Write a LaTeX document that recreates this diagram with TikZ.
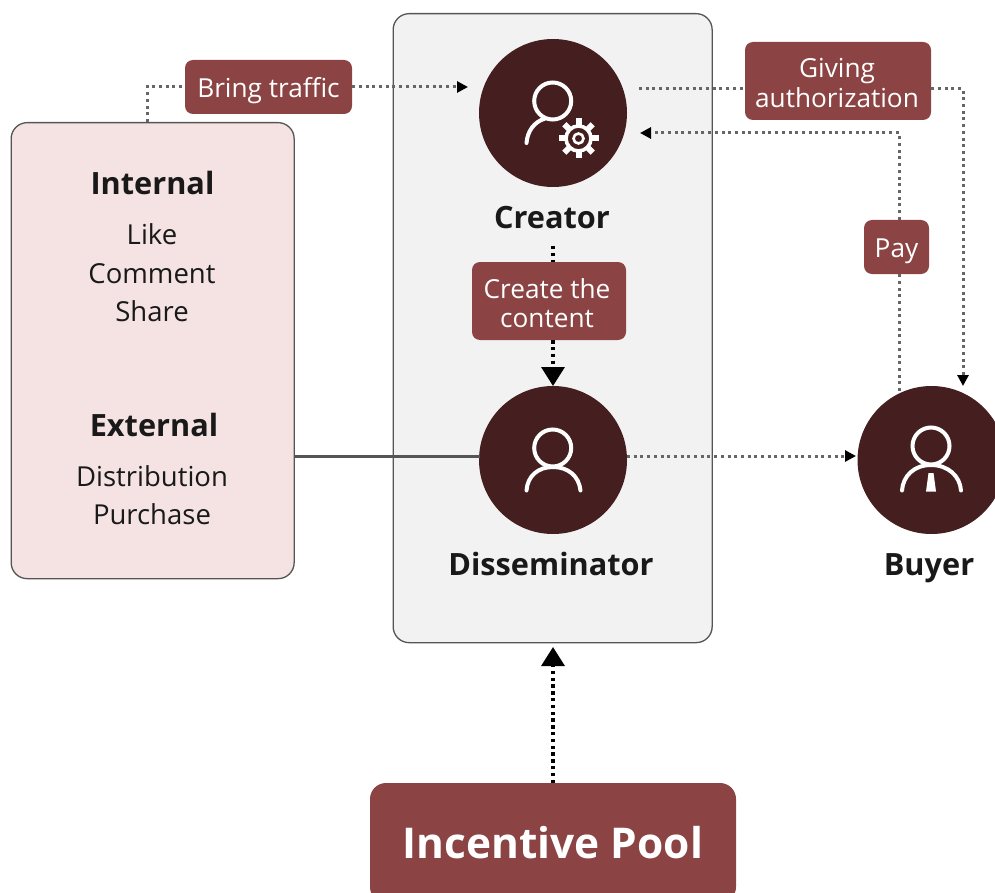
\documentclass[tikz,border=0pt]{standalone}
\usepackage{fontspec}
\setmainfont{Open Sans}
\usetikzlibrary{arrows.meta,calc}
\definecolor{darkc}{HTML}{451F1F}
\definecolor{labelc}{HTML}{8B4343}
\definecolor{pinkc}{HTML}{F5E3E3}
\definecolor{greyc}{HTML}{F2F2F2}
\definecolor{edgec}{HTML}{555555}
\definecolor{dotc}{HTML}{666666}
\tikzset{
  panel/.style={draw=edgec,line width=1.3pt,rounded corners=16pt,inner sep=0pt,anchor=north west},
  tag/.style={fill=labelc,text=white,rounded corners=8pt,inner sep=0pt,align=center,font=\fontsize{26.2}{29.5}\selectfont,text height=24pt,text depth=3pt},
  tagbox/.style={fill=labelc,rounded corners=8pt,inner sep=0pt},
  tagtext/.style={text=white,inner sep=0pt,align=center,font=\fontsize{26.2}{29.5}\selectfont},
  role/.style={circle,fill=darkc,minimum size=148pt,inner sep=0pt},
  rolename/.style={font=\fontsize{30.7}{34}\selectfont\bfseries,text=black!90,anchor=base},
  head/.style={font=\fontsize{30.7}{34}\selectfont\bfseries,text=black!90,anchor=base},
  item/.style={font=\fontsize{27.5}{30}\selectfont,text=black!90,anchor=base},
  dots/.style={draw=dotc,line width=3pt,dash pattern=on 3pt off 3.7pt},
  blackdots/.style={draw=black,line width=3.4pt,dash pattern=on 3.4pt off 3.4pt},
  tip/.style={-{Triangle[length=11pt,width=11pt,color=black,fill=black]}},
  bigtip/.style={-{Triangle[length=19pt,width=23pt]}},
  icon/.style={draw=white,line width=4pt,line cap=round},
}
\begin{document}
\begin{tikzpicture}[x=1pt,y=-1pt]
\useasboundingbox (0,0) rectangle (995,893);
\clip (0,0) rectangle (995,893);
% panels
\node[panel,fill=greyc,minimum width=319pt,minimum height=629pt] (group) at (392.5,13) {};
\node[panel,fill=pinkc,minimum width=283pt,minimum height=456pt] (social) at (10.5,122) {};
% role circles
\node[role] (creator) at (553,113) {};
\node[role] (dissem) at (553,460) {};
\node[role] (buyer) at (931.5,460) {};
% tags
\node[tag,minimum width=167pt,minimum height=54pt] (traffic) at (268.5,87) {Bring traffic};
\node[tagbox,minimum width=186pt,minimum height=78pt] (auth) at (838,81) {};
\node[tagtext] (authtext) at (837,83) {Giving\\authorization};
\node[tag,minimum width=65pt,minimum height=54pt] (pay) at (896.5,247) {Pay};
\node[tagbox,minimum width=154pt,minimum height=78pt] (create) at (549,301) {};
\node[tagtext] (createtext) at (547,303) {Create the\\content};
\node[fill=labelc,rounded corners=16pt,minimum width=366pt,minimum height=120pt,inner sep=0pt] (pool) at (553,843) {};
\node[text=white,font=\fontsize{42.4}{48}\selectfont\bfseries] (pooltext) at (553,843) {Incentive Pool};
% names
\node[rolename] (creatorname) at (552,228.5) {Creator};
\node[rolename] (dissemname) at (551,575.5) {Disseminator};
\node[rolename] (buyername) at (929,575.5) {Buyer};
\node[head] (internal) at (152.5,195) {Internal};
\node[item] (like) at (152,245) {Like};
\node[item] (comment) at (152,283) {Comment};
\node[item] (share) at (152,321) {Share};
\node[head] (external) at (154,436) {External};
\node[item] (distribution) at (152,486) {Distribution};
\node[item] (purchase) at (152,524) {Purchase};
% free ends
\coordinate (a1) at (147,122);
\coordinate (a2) at (147,87);
\coordinate (a3) at (468,87);
\coordinate (b1) at (639,89);
\coordinate (b2) at (963,89);
\coordinate (b3) at (963,386);
\coordinate (c1) at (899,391);
\coordinate (c2) at (899,133);
\coordinate (c3) at (640,133);
\coordinate (d1) at (553,246);
\coordinate (e1) at (627,456);
\coordinate (e2) at (856,456);
\coordinate (f1) at (294,456);
\coordinate (f2) at (480,456);
% connectors
\draw[dots] (a1) -- (a2) -- (traffic.west |- a2);
\draw[dots,tip] (traffic.east |- a3) -- (a3);
\draw[dots] (b1) -- (auth.west |- b1);
\draw[dots,tip] (auth.east |- b2) -- (b2) -- (b3);
\draw[dots] (c1) -- (c1 |- pay.south);
\draw[dots,tip] (c1 |- pay.north) -- (c2) -- (c3);
\draw[dots,tip] (e1) -- (e2);
\draw[edgec,line width=3pt] (f1) -- (f2);
\draw[blackdots] (d1) -- (d1 |- create.north);
\draw[blackdots,bigtip] (d1 |- create.south) -- (553,386);
\draw[blackdots,bigtip] (553,783) -- (553,647);
% creator icon
\draw[icon] (552.7,101) circle (18.5);
\draw[icon] (526.5,143) .. controls (527.5,131) and (534,122) .. (545,118.5);
\begin{scope}[shift={(578.5,138.5)}]
  \draw[white,line width=3.6pt] (0,0) circle (12.5);
  \draw[white,line width=2.6pt] (0,0) circle (5);
  \foreach \a in {0,45,...,315}
    \fill[white,rotate=\a] (-3,-20) rectangle (3,-12);
\end{scope}
% disseminator icon
\draw[icon] (552.7,448) circle (18.5);
\draw[icon] (526.5,490.5) .. controls (527.5,476) and (538,467) .. (553,467) .. controls (568,467) and (579,476) .. (580.5,490.5);
% buyer icon
\draw[icon] (931,446) circle (18.5);
\draw[icon] (902,490.5) .. controls (903,476) and (914,465) .. (931,465) .. controls (948,465) and (960,476) .. (961,490.5);
\fill[white] (928.5,473) -- (933.5,473) -- (936,491.5) -- (926,491.5) -- cycle;
\end{tikzpicture}
\end{document}
